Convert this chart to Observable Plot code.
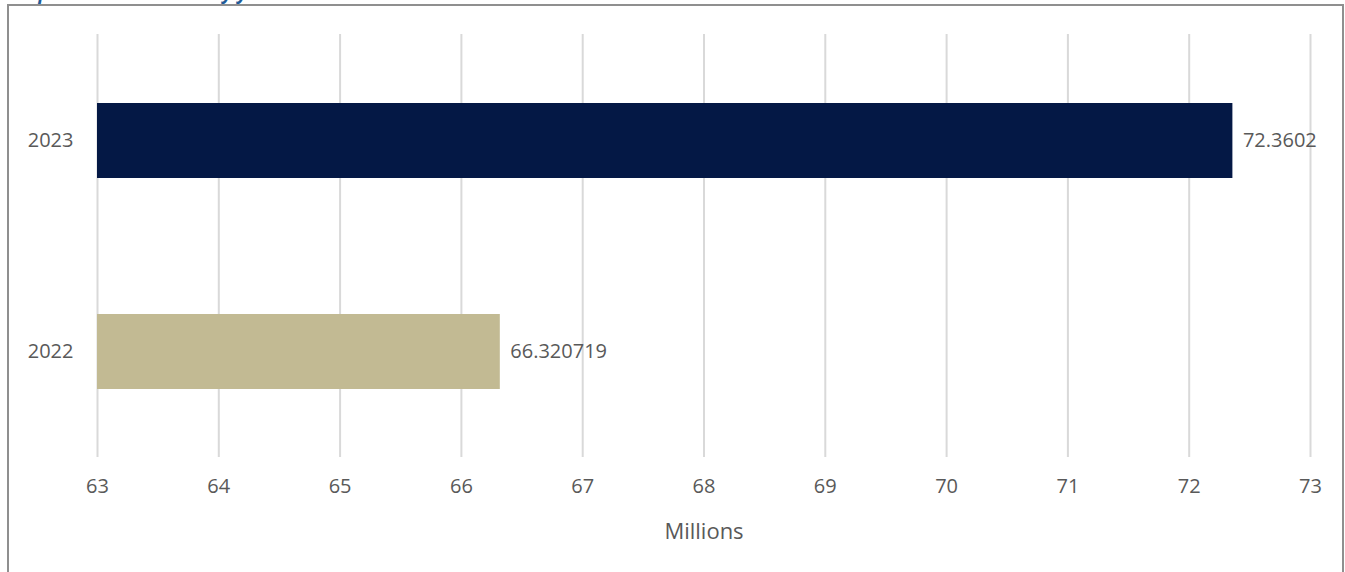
<!DOCTYPE html>
<html>
<head>
<meta charset="utf-8">
<script src="https://cdn.jsdelivr.net/npm/d3@7"></script>
<script src="https://cdn.jsdelivr.net/npm/@observablehq/plot@0.6"></script>
<style>
  html, body { margin: 0; padding: 0; background: #fff; overflow: hidden; }
  #wrap { position: relative; width: 1345px; height: 572px; overflow: hidden; font-family: "Open Sans", sans-serif; }
  #title { position: absolute; left: 6px; top: -21px; font-size: 19px; line-height: 26px; font-weight: bold; font-style: italic; color: #1F5C99; white-space: nowrap; }
  #frame { position: absolute; left: 7px; top: 4px; width: 1337px; height: 600px; border: 2px solid #8f8f8f; box-sizing: border-box; }
  #chart { position: absolute; left: 0; top: 0; }
</style>
</head>
<body>
<div id="wrap">
  <div id="title">Graph 1: Total arrivals by year in millions</div>
  <div id="frame"></div>
  <div id="chart"></div>
</div>
<script>
const years = ["2023", "2022"];
const values = [72.3602, 66.320719];
const labels = ["72.3602", "66.320719"];
const colors = ["#041845", "#C2BA93"];
const xTicks = [63, 64, 65, 66, 67, 68, 69, 70, 71, 72, 73];
const xLabel = "Millions";

const data = years.map((y, i) => ({year: y, value: values[i], label: labels[i], color: colors[i]}));

const chart = Plot.plot({
  width: 1345,
  height: 572,
  marginLeft: 97,
  marginRight: 35,
  marginTop: 34,
  marginBottom: 115,
  style: {fontFamily: "'Open Sans', sans-serif", fontSize: "20px", color: "#595959", background: "transparent"},
  x: {domain: [63, 73], ticks: xTicks, tickSize: 0, label: null},
  y: {domain: years, padding: 0, tickSize: 0, label: null},
  marks: [
    Plot.gridX(xTicks, {stroke: "#d9d9d9", strokeOpacity: 1, strokeWidth: 2}),
    Plot.barX(data, {y: "year", x1: 63, x2: "value", fill: "color", insetTop: 68, insetBottom: 68}),
    Plot.text(data, {y: "year", x: "value", text: "label", dx: 10, textAnchor: "start", fill: "#595959", fontSize: 20}),
    Plot.axisX({ticks: xTicks, tickSize: 0, tickPadding: 21, fill: "#595959", fontSize: 20, label: null}),
    Plot.axisY({tickSize: 0, tickPadding: 24, fill: "#595959", fontSize: 20, label: null}),
    Plot.text([xLabel], {frameAnchor: "bottom", dy: 81, text: d => d, fill: "#595959", fontSize: 22})
  ]
});
document.getElementById("chart").appendChild(chart);
</script>
</body>
</html>
